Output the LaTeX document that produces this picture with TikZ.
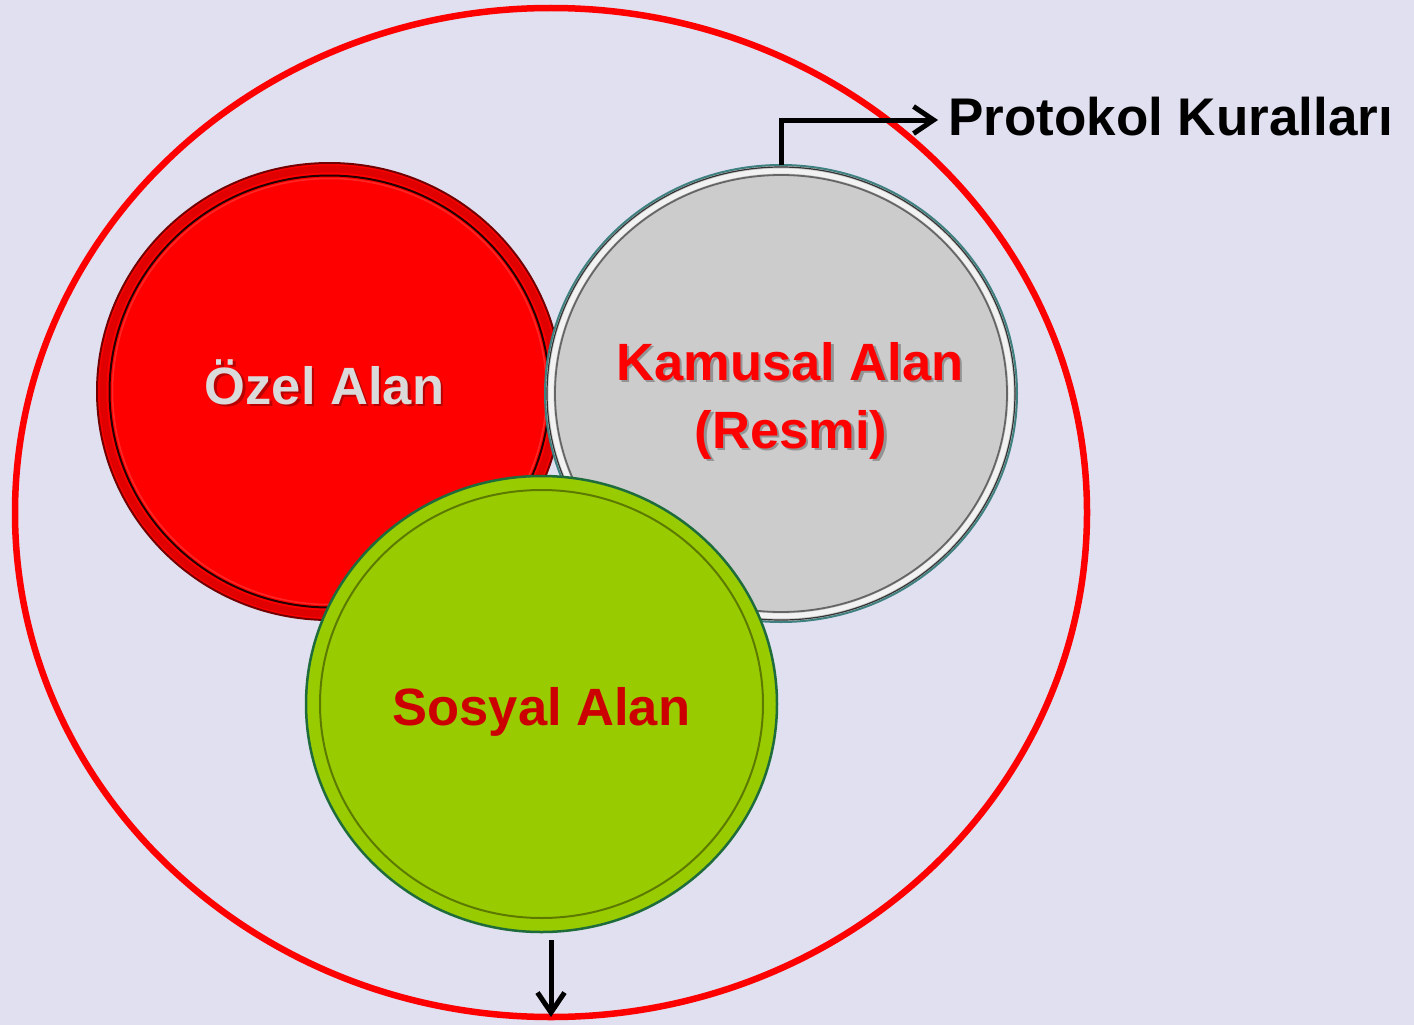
\documentclass[tikz,border=0pt]{standalone}
\usepackage{fontspec}
\setmainfont{Liberation Sans}
\usetikzlibrary{shapes.geometric,arrows.meta}
\definecolor{bgc}{HTML}{E0E0F0}
\definecolor{redf}{HTML}{FF0000}
\definecolor{grayf}{HTML}{CCCCCC}
\definecolor{greenf}{HTML}{99CC00}
\definecolor{sosred}{HTML}{CC0000}
\definecolor{teal2}{HTML}{3F8080}
\definecolor{dkgreen}{HTML}{1E6B3C}
\definecolor{olive2}{HTML}{5C7A00}
\definecolor{ozeltxt}{HTML}{DADADA}
\tikzset{
  disc/.style={ellipse, inner sep=0pt, outer sep=0pt},
  lbl/.style={inner sep=0pt, anchor=base, font=\fontsize{52.5}{60}\selectfont\bfseries},
  conn/.style={line width=5pt, black, -{Straight Barb[length=20pt,width=27pt,line width=5pt]}},
}
\newcommand\shtext[4]{%
  \node[lbl,text=black,opacity=.28] at ([shift={(2.5,2.5)}]#2) {#4};
  \node[lbl,text=#3] (#1) at (#2) {#4};}
\begin{document}
\begin{tikzpicture}[x=1pt,y=-1pt]
\useasboundingbox (0,0) rectangle (1414,1025);
\fill[bgc] (0,0) rectangle (1414,1025);

% outer ellipse
\node[disc, draw=redf, line width=6.5pt, minimum width=1072pt, minimum height=1009pt] (outer) at (551,512.5) {};

% Ozel Alan
\node[disc, fill=redf, draw=red!45!black, line width=2pt, minimum width=465pt, minimum height=457pt] (ozel) at (329.5,391.5) {};
\draw[red!88!black, line width=7pt] (ozel.center) ellipse[x radius=226.5, y radius=222.5];
\draw[black!85!red, line width=2pt] (ozel.center) ellipse[x radius=220, y radius=216];
\draw[red!50!white, opacity=.3, line width=1.5pt] (ozel.center) ellipse[x radius=217, y radius=213];

% Kamusal Alan
\node[disc, fill=grayf, draw=teal2, line width=2pt, minimum width=472pt, minimum height=457pt] (kamu) at (781,393.5) {};
\draw[black!80, line width=1.2pt] (kamu.center) ellipse[x radius=234, y radius=226.5];
\draw[white!75!grayf, line width=5pt] (kamu.center) ellipse[x radius=230, y radius=222.5];
\draw[gray!80!black, line width=1.8pt] (kamu.center) ellipse[x radius=226, y radius=218.5];

% Sosyal Alan
\node[disc, fill=greenf, draw=dkgreen, line width=2.5pt, minimum width=471pt, minimum height=456pt] (sosyal) at (541.5,704) {};
\draw[olive2, line width=2pt] (sosyal.center) ellipse[x radius=221.5, y radius=214];

% labels
\shtext{tozel}{324.5,404}{ozeltxt}{Özel Alan}
\shtext{tkamu}{790,380}{redf}{Kamusal Alan}
\shtext{tresmi}{791,448}{redf}{(Resmi)}
\node[lbl,text=sosred] (tsosyal) at (541.5,725) {Sosyal Alan};
\node[lbl,anchor=base west,text=black,font=\fontsize{53}{60}\selectfont\bfseries] (prot) at (948,135) {Protokol Kuralları};

% connectors
\coordinate (ptip) at (938,120);
\draw[conn] (kamu.north) |- (ptip);
\coordinate (bstart) at (551,940);
\draw[conn] (bstart) -- (outer.south);
\end{tikzpicture}
\end{document}
